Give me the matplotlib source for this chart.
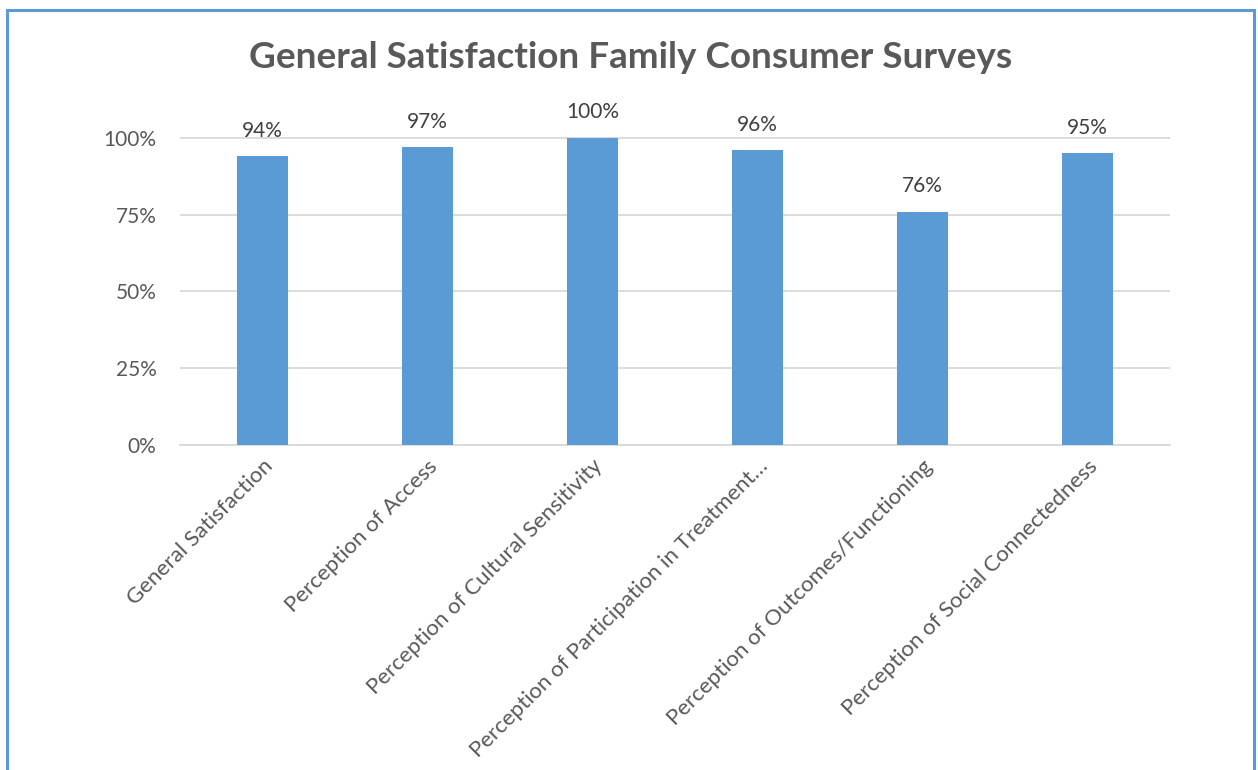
import matplotlib.pyplot as plt
from matplotlib.patches import Rectangle
from matplotlib.ticker import FuncFormatter

categories = [
    "General Satisfaction",
    "Perception of Access",
    "Perception of Cultural Sensitivity",
    "Perception of Participation in Treatment\u2026",
    "Perception of Outcomes/Functioning",
    "Perception of Social Connectedness",
]
values = [94, 97, 100, 96, 76, 95]
yticks = [0, 25, 50, 75, 100]

plt.rcParams['font.family'] = ['Lato', 'DejaVu Sans']

fig = plt.figure(figsize=(12.58, 7.70), dpi=100)
ax = fig.add_axes([180 / 1258, 1 - 445 / 770, 990 / 1258, (445 - 100) / 770])

x = range(len(categories))
ax.bar(x, values, width=0.31, color='#5B9BD5', zorder=3)

for i, v in zip(x, values):
    ax.text(i, v + 5, f'{v}%', ha='center', va='bottom', fontsize=15, color='#404040')

ax.set_xlim(-0.5, len(categories) - 0.5)
ax.set_ylim(0, 112.3)
ax.set_yticks(yticks)
ax.yaxis.set_major_formatter(FuncFormatter(lambda v, p: f'{int(v)}%'))
ax.grid(axis='y', color='#D9D9D9', linewidth=1.3, zorder=0)
ax.tick_params(axis='y', length=0, labelsize=15, labelcolor='#595959', pad=17)
ax.tick_params(axis='x', length=0, labelsize=16, labelcolor='#595959', pad=8)
ax.set_xticks(list(x))
ax.set_xticklabels(categories, rotation=45, ha='right', rotation_mode='anchor')
for s in ['top', 'right', 'left']:
    ax.spines[s].set_visible(False)
ax.spines['bottom'].set_color('#D9D9D9')
ax.spines['bottom'].set_linewidth(1.3)

fig.text(631 / 1258, 1 - 57 / 770, 'General Satisfaction Family Consumer Surveys',
         ha='center', va='center', fontsize=26.6, fontweight='bold', color='#595959')

# chart frame, open at the bottom edge
fig.patches.append(Rectangle((7 / 1258, -0.05), 1247 / 1258, 1.05 - 10 / 770,
                             transform=fig.transFigure, fill=False,
                             edgecolor='#5B9BD5', linewidth=2.2))

fig.savefig('out.png', dpi=100)
